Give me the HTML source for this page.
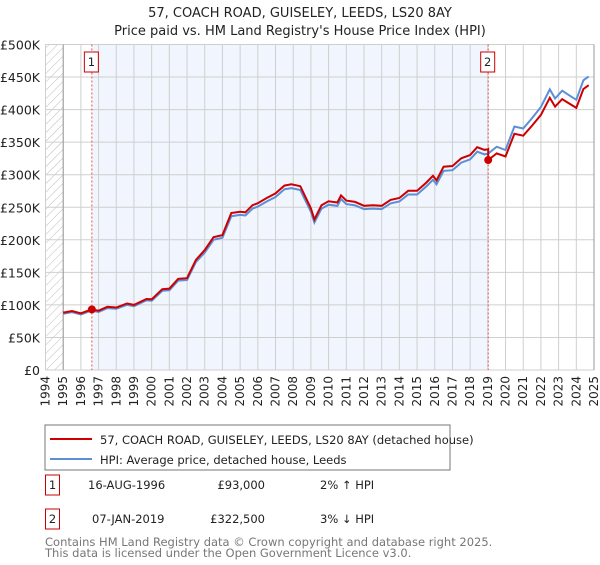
<!DOCTYPE html>
<html><head><meta charset="utf-8"><style>
body{margin:0;background:#fff;font-family:"Liberation Sans","DejaVu Sans",sans-serif;}
svg text{font-family:"DejaVu Sans","Liberation Sans",sans-serif;}
</style></head><body>
<svg id="c" width="600" height="560" xmlns="http://www.w3.org/2000/svg">
<defs><pattern id="hatch" width="6" height="6" patternUnits="userSpaceOnUse" patternTransform="rotate(45)"><line x1="0" y1="0" x2="0" y2="6" stroke="#bbb" stroke-width="1"/></pattern></defs>
<text x="300" y="17" text-anchor="middle" font-size="13" fill="#222">57, COACH ROAD, GUISELEY, LEEDS, LS20 8AY</text>
<text x="300" y="35" text-anchor="middle" font-size="13" fill="#222">Price paid vs. HM Land Registry's House Price Index (HPI)</text>
<g id="plot"></g>
<rect x="45" y="425" width="405" height="45" fill="#fff" stroke="#777"/>
<line x1="50" y1="439" x2="92" y2="439" stroke="#cc0000" stroke-width="2"/>
<text x="100" y="444" font-size="11.5" fill="#222">57, COACH ROAD, GUISELEY, LEEDS, LS20 8AY (detached house)</text>
<line x1="50" y1="459" x2="92" y2="459" stroke="#5b8fd6" stroke-width="2"/>
<text x="100" y="464" font-size="11.5" fill="#222">HPI: Average price, detached house, Leeds</text>
<rect x="45.5" y="475" width="14" height="20" fill="#fff" stroke="#cc0000"/>
<text x="52.5" y="489" text-anchor="middle" font-size="11.5" fill="#222">1</text>
<text x="88" y="489" font-size="11.5" fill="#222">16-AUG-1996</text>
<text x="265" y="489" text-anchor="end" font-size="11.5" fill="#222">£93,000</text>
<text x="320" y="489" font-size="11.5" fill="#222">2% ↑ HPI</text>
<rect x="45.5" y="509" width="14" height="20" fill="#fff" stroke="#cc0000"/>
<text x="52.5" y="523" text-anchor="middle" font-size="11.5" fill="#222">2</text>
<text x="92" y="523" font-size="11.5" fill="#222">07-JAN-2019</text>
<text x="265" y="523" text-anchor="end" font-size="11.5" fill="#222">£322,500</text>
<text x="320" y="523" font-size="11.5" fill="#222">3% ↓ HPI</text>
<text x="45" y="546" font-size="11.5" fill="#777">Contains HM Land Registry data © Crown copyright and database right 2025.</text>
<text x="45" y="557" font-size="11.5" fill="#777">This data is licensed under the Open Government Licence v3.0.</text>
</svg>
<script>
const hpiYears=[1995.0,1995.5,1996.0,1996.6,1997.0,1997.5,1998.0,1998.6,1999.0,1999.7,2000.0,2000.6,2001.0,2001.5,2002.0,2002.5,2003.0,2003.5,2004.0,2004.5,2005.0,2005.3,2005.7,2006.0,2006.5,2007.0,2007.5,2007.9,2008.4,2009.0,2009.2,2009.6,2010.0,2010.5,2010.7,2011.0,2011.5,2012.0,2012.5,2013.0,2013.5,2014.0,2014.5,2015.0,2015.5,2015.9,2016.1,2016.5,2017.0,2017.5,2018.0,2018.4,2018.8,2019.0,2019.5,2020.0,2020.5,2021.0,2021.5,2022.0,2022.5,2022.8,2023.2,2023.6,2024.0,2024.4,2024.7];
const hpiValues=[86.3,88.8,85.3,91.2,89.2,95.1,94.1,100,98,106.9,106.4,121.6,122.5,137.3,138.2,165.7,180.4,200,203,236.3,238.2,237.3,248,251,258.8,265.7,277.5,279.4,276.5,243.1,226.5,248,253.9,252,262.7,254.9,252.9,247.1,248,247.1,255.9,258.8,269.6,269.6,281.4,292.2,285.3,305.9,306.9,318.6,323.5,335.3,331.4,332,343,338,374,371,387,404,431,417,429,422,415,445,451];
const saleYears=[1996.62,2019.02];
const salePrices=[93000,322500];
const yTicks=[0,50,100,150,200,250,300,350,400,450,500];
const xTicks=[1994,1995,1996,1997,1998,1999,2000,2001,2002,2003,2004,2005,2006,2007,2008,2009,2010,2011,2012,2013,2014,2015,2016,2017,2018,2019,2020,2021,2022,2023,2024,2025];
const X0=45.5,X1=594,Y0=370,Y1=44.5;
const sx=y=>X0+(y-1994)/(2025-1994)*(X1-X0);
const sy=v=>Y0-v/500*(Y0-Y1);
const NS='http://www.w3.org/2000/svg';
const g=document.getElementById('plot');
function mk(t,a){const e=document.createElementNS(NS,t);for(const k in a)e.setAttribute(k,a[k]);g.appendChild(e);return e;}
function hpiAt(t){for(let i=0;i<hpiYears.length-1;i++){if(t<=hpiYears[i+1]){const f=(t-hpiYears[i])/(hpiYears[i+1]-hpiYears[i]);return hpiValues[i]+f*(hpiValues[i+1]-hpiValues[i]);}}return hpiValues[hpiValues.length-1];}
let e=mk('rect',{x:sx(1994),y:Y1,width:sx(1995)-sx(1994),height:Y0-Y1,fill:'url(#hatch)'});


e=mk('rect',{x:sx(saleYears[0]),y:Y1,width:sx(saleYears[1])-sx(saleYears[0]),height:Y0-Y1,fill:'#f1f5fd'});


xTicks.forEach(t=>{const l=mk('line',{x1:sx(t),x2:sx(t),y1:Y1,y2:Y0,stroke:'#cfcfcf','stroke-width':1});


const x=sx(t)+4;const tx=mk('text',{x:x,y:376,transform:`rotate(-90 ${x} 376)`,'text-anchor':'end','font-size':12,fill:'#222'});tx.textContent=t;

});
yTicks.forEach(v=>{const l=mk('line',{x1:X0,x2:X1,y1:sy(v),y2:sy(v),stroke:'#cfcfcf','stroke-width':1});


const tx=mk('text',{x:40,y:sy(v)+5,'text-anchor':'end','font-size':12.5,fill:'#222'});tx.textContent=v===0?'£0':'£'+v+'K';

});
e=mk('line',{x1:sx(1995),x2:sx(1995),y1:Y1,y2:Y0,stroke:'#999'});


e=mk('line',{x1:X1,x2:X1,y1:Y1,y2:Y0,stroke:'#999'});


saleYears.forEach((s,i)=>{const l=mk('line',{x1:sx(s),x2:sx(s),y1:Y1,y2:Y0,stroke:'#e05050','stroke-dasharray':'2,2'});


const b=mk('rect',{x:sx(s)-7.5,y:52,width:14,height:20,fill:'#fff',stroke:'#cc0000'});


const tx=mk('text',{x:sx(s)-0.5,y:66,'text-anchor':'middle','font-size':11.5,fill:'#222'});tx.textContent=i+1;});
const bp=hpiYears.map((t,i)=>sx(t).toFixed(1)+','+sy(hpiValues[i]).toFixed(1)).join(' ');
e=mk('polyline',{points:bp,fill:'none',stroke:'#5b8fd6','stroke-width':2});


const r1=salePrices[0]/1000/hpiAt(saleYears[0]),r2=salePrices[1]/1000/hpiAt(saleYears[1]);
const rp=[];hpiYears.forEach((t,i)=>{if(t<saleYears[1])rp.push([t,hpiValues[i]*r1]);});
rp.push([saleYears[1],hpiAt(saleYears[1])*r1]);rp.push([saleYears[1],salePrices[1]/1000]);
hpiYears.forEach((t,i)=>{if(t>saleYears[1])rp.push([t,hpiValues[i]*r2]);});
e=mk('polyline',{points:rp.map(p=>sx(p[0]).toFixed(1)+','+sy(p[1]).toFixed(1)).join(' '),fill:'none',stroke:'#cc0000','stroke-width':2});


saleYears.forEach((s,i)=>{const c=mk('circle',{cx:sx(s),cy:sy(salePrices[i]/1000),r:4,fill:'#cc0000'});

});
</script>
</body></html>
